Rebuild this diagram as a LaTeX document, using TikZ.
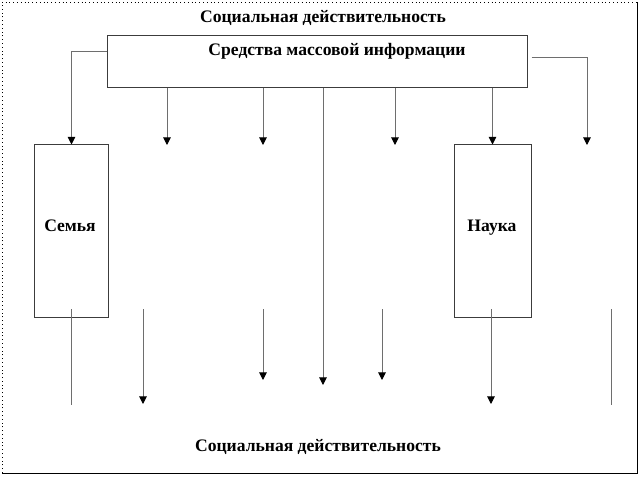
\documentclass[tikz,border=0pt]{standalone}
\usepackage{fontspec}
\setmainfont{Liberation Serif}
\definecolor{linegray}{RGB}{110,110,110}
\definecolor{boxgray}{RGB}{60,60,60}
\usetikzlibrary{arrows.meta, calc}

\begin{document}
\begin{tikzpicture}[
      x=0.025cm, y=-0.025cm,
      block/.style={rectangle, draw=boxgray, line width=0.7pt, inner sep=0pt,
                    minimum width=1.85cm, minimum height=4.3cm},
      caption/.style={inner sep=0pt, font=\fontsize{12.5}{15}\selectfont\bfseries},
      arr/.style={-{Triangle[length=0.19cm, width=0.19cm, black]}, line width=0.7pt, linegray},
      bare/.style={line width=0.7pt, linegray}
    ]
      \useasboundingbox (0,0) rectangle (640,476);

      % Frame
      \draw[dotted, line width=0.7pt] (2,473) -- (2,2) -- (637,2);
      \draw[line width=0.7pt] (637,2) -- (637,473) -- (2,473);

      % Top — media block
      \node[caption] (toptitle) at (323,18) {Социальная действительность};
      \node[block, minimum width=10.475cm, minimum height=1.3cm] (smi) at (317.5,61) {};
      \node[caption] (smilabel) at (337,51) {Средства массовой информации};

      % Side blocks
      \node[block] (family) at (71.5,231) {};
      \node[caption, anchor=base] (familylabel) at (70,231) {Семья};
      \node[block, minimum width=1.925cm] (science) at (492.5,231) {};
      \node[caption, anchor=base] (sciencelabel) at (492,231) {Наука};

      % Bottom caption
      \node[caption] (bottomtitle) at (318,447) {Социальная действительность};

      % Arrows from the media block
      \draw[arr] ([yshift=0.25cm]smi.west) -| (family.north);
      \coordinate (rightend) at (587,145);
      \draw[arr] ([xshift=0.1cm, yshift=0.1cm]smi.east) -| (rightend);
      \foreach \x/\n in {167/a, 263/b, 395/c} {
        \coordinate (upend\n) at (\x,145);
        \draw[arr] (smi.south -| upend\n) -- (upend\n);
      }
      \draw[arr] (smi.south -| science.north) -- (science.north);
      \coordinate (midend) at (323,385);
      \draw[arr] (smi.south -| midend) -- (midend);

      % Lower arrows
      \foreach \x/\y/\n in {143/404/a, 263/380/b, 382/380/c, 491/404/d} {
        \coordinate (lowtop\n) at (\x,309);
        \coordinate (lowend\n) at (\x,\y);
        \draw[arr] (lowtop\n) -- (lowend\n);
      }
      \foreach \x/\n in {71/l, 611/r} {
        \coordinate (bartop\n) at (\x,309);
        \coordinate (barend\n) at (\x,405);
        \draw[bare] (bartop\n) -- (barend\n);
      }

    \end{tikzpicture}
\end{document}
